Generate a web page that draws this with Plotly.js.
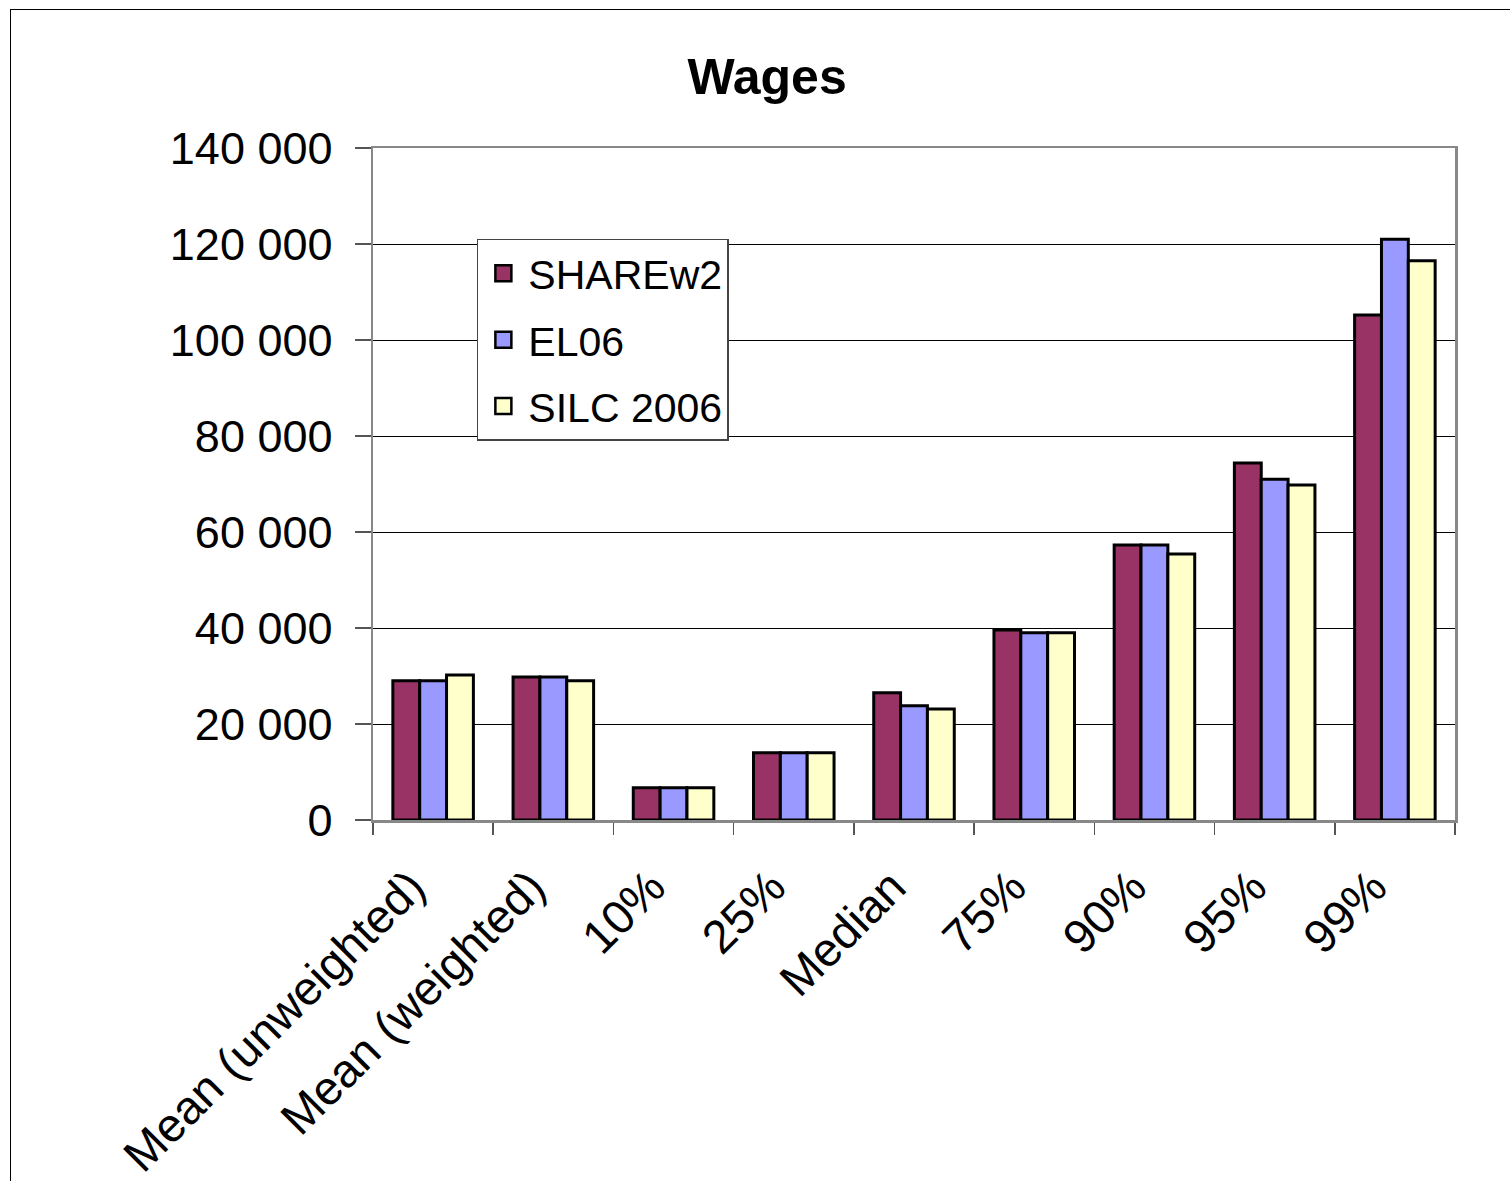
<!DOCTYPE html>
<html>
<head>
<meta charset="utf-8">
<script src="https://cdn.plot.ly/plotly-3.0.1.min.js"></script>
<style>
html,body{margin:0;padding:0;background:#fff;}
#wrap{position:relative;width:1510px;height:1181px;}
#chart{width:1510px;height:1181px;}
#frame{position:absolute;left:10px;top:9px;width:1510px;height:1200px;border:1.5px solid #000;pointer-events:none;}
</style>
</head>
<body>
<div id="wrap"><div id="chart"></div><div id="frame"></div></div>
<script>
const categories = ["Mean (unweighted)", "Mean (weighted)", "10%", "25%", "Median", "75%", "90%", "95%", "99%"];
const seriesNames = ["SHAREw2", "EL06", "SILC 2006"];
const shareW2 = [29000, 29800, 6700, 14000, 26500, 39600, 57300, 74400, 105200];
const el06 = [29000, 29800, 6700, 14000, 23800, 39000, 57300, 71000, 121000];
const silc2006 = [30200, 29000, 6700, 14000, 23100, 39000, 55400, 69800, 116500];
const yTicks = [0, 20000, 40000, 60000, 80000, 100000, 120000, 140000];
const colors = ["#993366", "#9999FF", "#FFFFCC"];

const font = "Liberation Sans, Arial, sans-serif";
const values = [shareW2, el06, silc2006];
const data = [];
values.forEach((v, i) => {
  data.push({type: "bar", name: seriesNames[i], x: categories, y: v, showlegend: false,
    marker: {color: colors[i], line: {color: "#000", width: 3}}});
});
values.forEach((v, i) => {
  data.push({type: "scatter", mode: "markers", name: seriesNames[i], x: [null], y: [null],
    legendgroup: "g" + i, showlegend: true,
    marker: {symbol: "square", size: 21, color: colors[i], line: {color: "#000", width: 2.5}}});
});
const layout = {
  width: 1510, height: 1181,
  margin: {l: 373, r: 55, t: 148, b: 361},
  paper_bgcolor: "#fff", plot_bgcolor: "#fff",
  font: {family: font, color: "#000", size: 40},
  separators: ". ",
  title: {text: "<b>Wages</b>", font: {family: font, size: 50, color: "#000"},
    x: 0.508, xanchor: "center", y: 0.935, yanchor: "middle"},
  barmode: "group", bargap: 0.33, bargroupgap: 0,
  showlegend: true,
  legend: {x: 0.096, y: 0.865, xanchor: "left", yanchor: "top",
    bgcolor: "#fff", bordercolor: "#444", borderwidth: 1.5,
    font: {family: font, size: 41, color: "#000"},
    traceorder: "grouped", tracegroupgap: 10, itemwidth: 40},
  xaxis: {type: "category", tickangle: -45, tickfont: {family: font, size: 47},
    ticks: "outside", ticklen: 12, tickcolor: "#555", tickwidth: 1.5, tickson: "boundaries",
    ticklabelstandoff: 18, ticklabelshift: -22,
    showline: true, linecolor: "#888", linewidth: 2.5, mirror: true, showgrid: false},
  yaxis: {range: [0, 140000], tickvals: yTicks, tickformat: ",d", separatethousands: true,
    tickfont: {family: font, size: 45}, ticks: "outside", ticklen: 16, tickcolor: "#555", tickwidth: 1.5,
    ticklabelstandoff: 13,
    showline: true, linecolor: "#888", linewidth: 2.5, mirror: true,
    showgrid: true, gridcolor: "#000", gridwidth: 1, zeroline: false}
};
Plotly.newPlot("chart", data, layout, {displayModeBar: false, staticPlot: true});
</script>
</body>
</html>
